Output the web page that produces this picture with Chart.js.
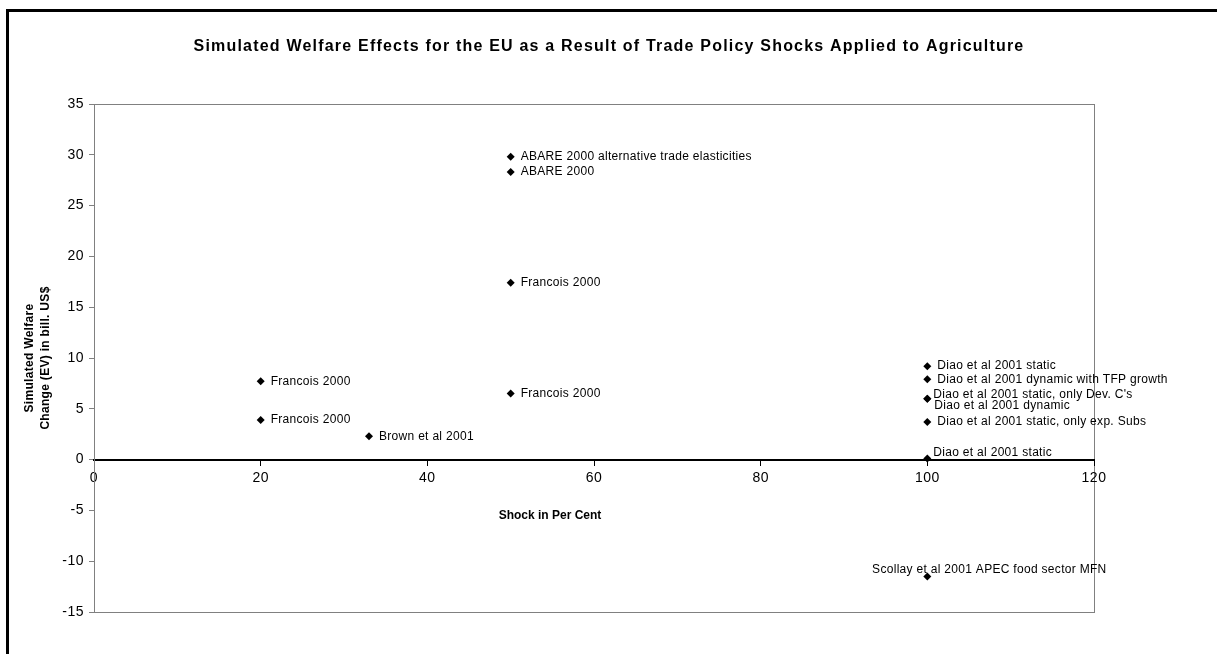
<!DOCTYPE html>
<html>
<head>
<meta charset="utf-8">
<script src="https://cdn.jsdelivr.net/npm/chart.js@4/dist/chart.umd.min.js"></script>
<style>
html,body{margin:0;padding:0;background:#fff;}
#wrap{width:1217px;height:654px;position:relative;}
</style>
</head>
<body>
<div id="wrap"><canvas id="c" width="1217" height="654"></canvas></div>
<script>
// ---- data ----
const studyLabels = [
  "ABARE 2000 alternative trade elasticities",
  "ABARE 2000",
  "Francois 2000",
  "Francois 2000",
  "Francois 2000",
  "Francois 2000",
  "Brown et al 2001",
  "Diao et al 2001 static",
  "Diao et al 2001 dynamic with TFP growth",
  "Diao et al 2001 static, only Dev. C's",
  "Diao et al 2001 dynamic",
  "Diao et al 2001 static, only exp. Subs",
  "Diao et al 2001 static",
  "Scollay et al 2001 APEC food sector MFN"
];
const shockPercent = [50, 50, 50, 20, 20, 50, 33, 100, 100, 100, 100, 100, 100, 100];
const welfareChange = [29.8, 28.3, 17.4, 7.7, 3.9, 6.5, 2.3, 9.2, 7.9, 6.0, 6.0, 3.7, 0.1, -11.5];
const xTicks = [0, 20, 40, 60, 80, 100, 120];
const yTicks = [-15, -10, -5, 0, 5, 10, 15, 20, 25, 30, 35];

const chartTitle = "Simulated Welfare Effects for the EU as a Result of Trade Policy Shocks Applied to Agriculture";
const xTitle = "Shock in Per Cent";
const yTitle = ["Simulated Welfare", "Change (EV) in bill. US$"];

// label placement (style only): [dx, dy, align]
const labelPlacement = [
  [10, 0, 'left'], [10, 0, 'left'], [10, 0, 'left'], [10, 0, 'left'], [10, 0, 'left'],
  [10, 0, 'left'], [10, 0, 'left'], [10, 0, 'left'], [10, 0, 'left'],
  [6, -4, 'left'], [7, 7, 'left'], [10, 0, 'left'], [6, -6, 'left'], [62, -7, 'center']
];

const points = shockPercent.map((x, i) => ({x: x, y: welfareChange[i]}));
const FONT = "'Liberation Sans', Arial, sans-serif";

const decor = {
  id: 'decor',
  beforeDraw(chart) {
    const ctx = chart.ctx;
    ctx.save();
    ctx.fillStyle = '#fff';
    ctx.fillRect(0, 0, chart.width, chart.height);
    ctx.fillStyle = '#000';
    ctx.fillRect(6, 9, chart.width - 6, 3);
    ctx.fillRect(6, 9, 3, chart.height - 9);
    const a = chart.chartArea;
    ctx.strokeStyle = '#808080';
    ctx.lineWidth = 1;
    ctx.strokeRect(Math.round(a.left) + 0.5, Math.round(a.top) + 0.5, Math.round(a.right - a.left), Math.round(a.bottom - a.top));
    // titles
    ctx.fillStyle = '#000';
    ctx.textBaseline = 'middle';
    ctx.textAlign = 'center';
    ctx.letterSpacing = '1.2px';
    ctx.font = 'bold 16px ' + FONT;
    ctx.fillText(chartTitle, 609, 47);
    ctx.letterSpacing = '0px';
    ctx.font = 'bold 12px ' + FONT;
    ctx.fillText(xTitle, 550, 516);
    ctx.letterSpacing = '0.3px';
    ctx.translate(38, 358);
    ctx.rotate(-Math.PI / 2);
    ctx.fillText(yTitle[0], 0, -8);
    ctx.fillText(yTitle[1], 0, 8);
    ctx.restore();
    // tick labels inherit this spacing
    ctx.letterSpacing = '0.5px';
  },
  afterDatasetsDraw(chart) {
    const ctx = chart.ctx;
    const meta = chart.getDatasetMeta(0);
    ctx.save();
    ctx.fillStyle = '#000';
    ctx.font = '12px ' + FONT;
    ctx.letterSpacing = '0.3px';
    ctx.textBaseline = 'middle';
    meta.data.forEach((el, i) => {
      const p = labelPlacement[i];
      ctx.textAlign = p[2];
      ctx.fillText(studyLabels[i], el.x + p[0], el.y + p[1]);
    });
    ctx.restore();
  }
};

new Chart(document.getElementById('c'), {
  type: 'scatter',
  data: {
    datasets: [{
      data: points,
      pointStyle: 'rectRot',
      pointRadius: 4,
      pointHoverRadius: 4,
      backgroundColor: '#000',
      borderColor: '#000',
      borderWidth: 0
    }]
  },
  plugins: [decor],
  options: {
    responsive: false,
    animation: false,
    events: [],
    layout: {padding: {left: 54, top: 104, right: 123, bottom: 42}},
    plugins: {legend: {display: false}, tooltip: {enabled: false}, title: {display: false}},
    scales: {
      x: {
        type: 'linear', min: 0, max: 120,
        position: {y: 0},
        afterBuildTicks(s) { s.ticks = xTicks.map(v => ({value: v})); },
        afterFit(s) { s.height = 10; },
        ticks: {color: '#000', font: {size: 14, family: FONT}, padding: 5, maxRotation: 0},
        grid: {drawOnChartArea: false, drawTicks: true, tickLength: 5, color: '#000', lineWidth: 1},
        border: {color: '#000', width: 2}
      },
      y: {
        type: 'linear', min: -15, max: 35,
        afterBuildTicks(s) { s.ticks = yTicks.map(v => ({value: v})); },
        afterFit(s) { s.width = 40; },
        ticks: {color: '#000', font: {size: 14, family: FONT}, padding: 5},
        grid: {drawOnChartArea: false, drawTicks: true, tickLength: 5, color: '#808080'},
        border: {color: '#808080', width: 1}
      }
    }
  }
});
</script>
</body>
</html>
